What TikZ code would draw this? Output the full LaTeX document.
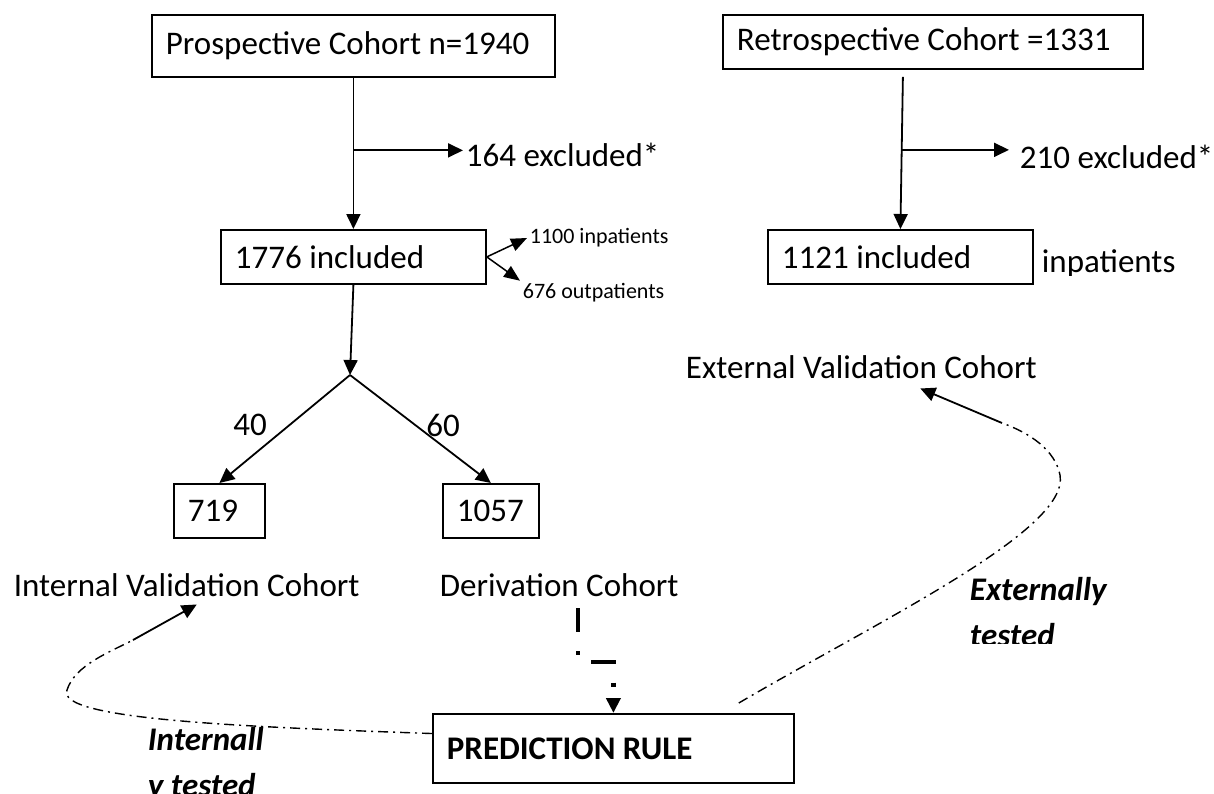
\documentclass[tikz,border=0pt]{standalone}
\usepackage{fontspec}
\setmainfont{Carlito}
\usetikzlibrary{positioning,arrows.meta,calc}
\newcommand\plainsp{\spaceskip=0pt \xspaceskip=0pt }

\begin{document}
\begin{tikzpicture}[x=1pt, y=-1pt, line width=1.8pt,
  >={Triangle[length=15pt,width=14pt]},
  font=\fontsize{33}{40}\selectfont,
  box/.style={draw, anchor=north west, inner xsep=14pt, inner ysep=0pt, align=left, minimum height=54pt,
    execute at begin node=\plainsp},
  lbl/.style={inner sep=2pt, anchor=west},
  tiny/.style={inner sep=2pt, anchor=west, font=\fontsize{22}{26}\selectfont},
  side/.style={->, line width=1.5pt, >={Triangle[length=16pt,width=13pt]}},
  note/.style={inner sep=0pt, anchor=base west, font=\fontsize{33}{40}\selectfont\bfseries\itshape},
  dd/.style={line width=1.4pt, dash pattern=on 10pt off 5pt on 2pt off 5pt},
  thickdd/.style={line width=4.5pt, dash pattern=on 24pt off 19pt on 4pt off 20pt}]
  \useasboundingbox (0,0) rectangle (1214,793);
  % prospective cohort
  \node[box, text width=375pt, minimum height=62pt] (pro) at (151,14) {Prospective Cohort n=1940};
  \node[box, text width=237pt] (inc1) at (220,229) {1776 included};
  \node[lbl] (excl1) at (463,155) {164 excluded*};
  \draw[->] (pro.south) -- (inc1.north);
  \coordinate (m1) at ($(pro.south)!0.48!(inc1.north)$);
  \draw[->] (m1) -- (m1 -| excl1.west);
  \node[tiny] (inp1) at (527,238) {1100 inpatients};
  \node[tiny] (outp) at (520,293) {676 outpatients};
  \draw[side] (inc1.east) -- (inp1.west);
  \draw[side] (inc1.east) -- (outp.north west);
  % split 40 / 60
  \coordinate (split) at (350,375);
  \draw[->] (inc1.south) -- (split);
  \node[box, text width=63pt] (b719) at (173,483) {719};
  \node[box, text width=68pt] (b1057) at (442,483) {1057};
  \draw[->] (split) -- (b719.north);
  \draw[->] (split) -- (b1057.north);
  \node (p40) at (250,425) {40};
  \node (p60) at (443,425) {60};
  \node[lbl] (ival) at (11,585) {Internal Validation Cohort};
  \node[lbl] (deriv) at (437,585) {Derivation Cohort};
  % retrospective cohort
  \node[box, text width=392pt] (ret) at (722,14) {Retrospective Cohort =1331};
  \node[box, text width=237pt] (inc2) at (767,229) {1121 included};
  \node[lbl] (excl2) at (1017,157) {210 excluded*};
  \coordinate (r0) at ($(ret.south)+(-30,7)$);
  \draw[->] (r0) -- (inc2.north);
  \coordinate (m2) at ($(r0)!0.48!(inc2.north)$);
  \draw[->] (m2) -- ($(m2 -| excl2.west)+(-8,0)$);
  \begin{scope}
    \clip (1030,240) rectangle (1214,275);
    \node[lbl, anchor=base west] (inp2) at (1039,272) {inpatients};
  \end{scope}
  \node[lbl] (eval) at (683,367) {External Validation Cohort};
  % prediction rule
  \node[box, text width=333pt, minimum height=69pt, font=\fontsize{33}{40}\selectfont\bfseries] (pred) at (432,713) {PREDICTION RULE};
  \coordinate (d0) at (578,608);
  \draw[thickdd, ->] (d0) |- ($(pred.north)+(0,-51)$) -- (pred.north);
  % internally tested
  \coordinate (i0) at ($(pred.north west)!0.29!(pred.south west)$);
  \coordinate (i1) at (133,640);
  \draw[dd] (i0) .. controls (250,727) and (55,720) .. (67,690) .. controls (75,665) and (110,652) .. (i1);
  \draw[->] (i1) -- ([xshift=10pt,yshift=-5pt]ival.south);
  \node[note] (intA) at (147,750) {Internall};
  \node[note] (intB) at (147,796) {y tested};
  % externally tested
  \coordinate (e0) at ($(pred.north east)+(-56,-10)$);
  \coordinate (e1) at (1002,423);
  \draw[dd] (e0) .. controls (880,620) and (1070,530) .. (1060,475) .. controls (1055,450) and (1030,433) .. (e1);
  \draw[->] (e1) -- ([xshift=59pt,yshift=-7pt]eval.south);
  \begin{scope}
    \clip (960,560) rectangle (1214,643);
    \node[note] (extA) at (969,600) {Externally};
    \node[note] (extB) at (969,646) {tested};
  \end{scope}
\end{tikzpicture}
\end{document}
